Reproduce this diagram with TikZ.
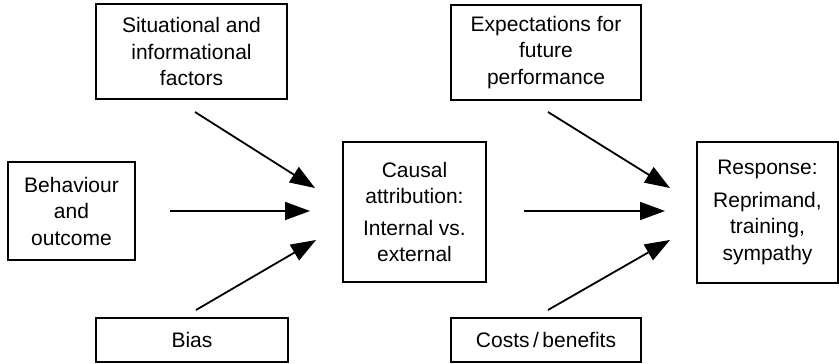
\documentclass[tikz,border=0pt]{standalone}
\usepackage{fontspec}
\setmainfont{Liberation Sans}
\usetikzlibrary{arrows.meta}
\begin{document}
\begin{tikzpicture}[x=1pt,y=-1pt,
  box/.style={draw, line width=1.3pt, rectangle, align=center, inner sep=0pt,
    font=\fontsize{21}{26.5}\selectfont},
  arr/.style={line width=1.8pt, -{Triangle[length=25pt,width=18pt]}}]
\useasboundingbox (0,0) rectangle (839,364);

% boxes
\node[box, minimum width=191pt, minimum height=95pt] (sit) at (191.5,51.5)
  {Situational and\\informational\\factors};
\node[box, minimum width=190pt, minimum height=95pt] (exp) at (546,52.5)
  {Expectations for\\future\\performance};
\node[box, minimum width=127pt, minimum height=98pt] (beh) at (71.5,211)
  {Behaviour\\and\\outcome};
\node[box, minimum width=143pt, minimum height=140pt] (cause) at (414.5,212)
  {Causal\\attribution:\\[5pt]Internal vs.\\external};
\node[box, minimum width=141pt, minimum height=141pt] (resp) at (767.5,212.5)
  {Response:\\[6pt]Reprimand,\\training,\\sympathy};
\node[box, minimum width=192pt, minimum height=44pt] (bias) at (192,340) {Bias};
\node[box, minimum width=190pt, minimum height=44pt] (cost) at (546,340)
  {Costs\,/\,benefits};

% arrow ends
\coordinate (sitOut) at (195,112);
\coordinate (sitIn) at (315,188);
\coordinate (behOut) at (170,211);
\coordinate (behIn) at (310,211);
\coordinate (biasOut) at (196,310);
\coordinate (biasIn) at (316,240);
\coordinate (causeOut) at (524,211);
\coordinate (causeIn) at (665,211);
\coordinate (expOut) at (548,112);
\coordinate (expIn) at (670,188);
\coordinate (costOut) at (548,310);
\coordinate (costIn) at (670,240);

% arrows
\draw[arr] (sitOut) -- (sitIn);
\draw[arr] (behOut) -- (behIn);
\draw[arr] (biasOut) -- (biasIn);
\draw[arr] (causeOut) -- (causeIn);
\draw[arr] (expOut) -- (expIn);
\draw[arr] (costOut) -- (costIn);
\end{tikzpicture}
\end{document}
